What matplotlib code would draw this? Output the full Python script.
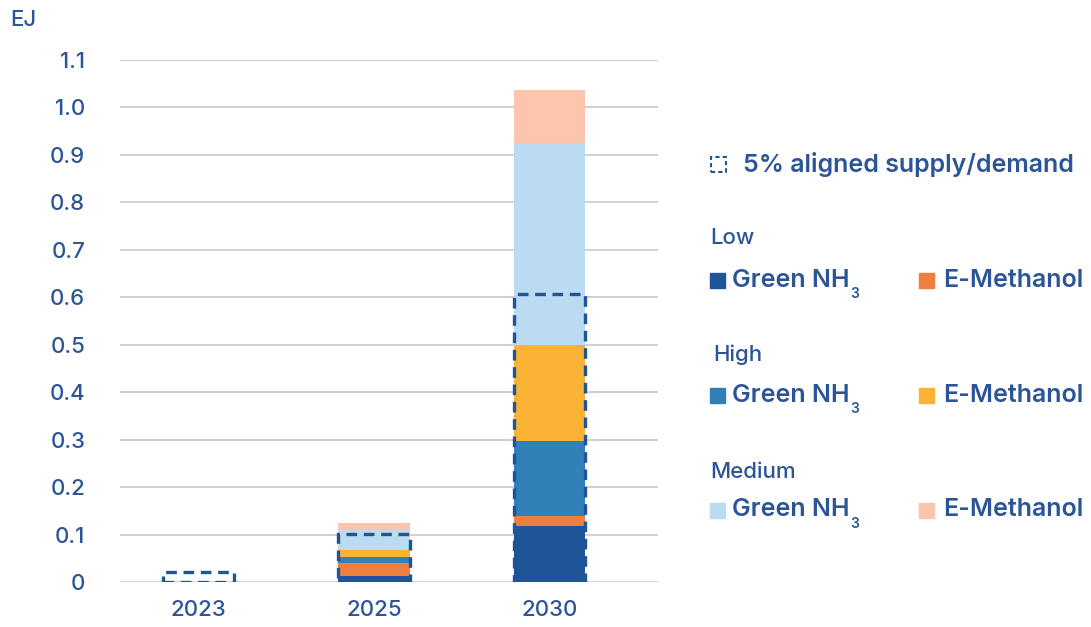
import matplotlib
matplotlib.use("Agg")
import matplotlib.pyplot as plt
from matplotlib.patches import Rectangle
import numpy as np

plt.rcParams['font.family'] = ['Inter', 'DejaVu Sans']

TEXT = "#2B5597"
GRID = "#C8C8C8"

years = ["2023", "2025", "2030"]
low_nh3 = [0.0, 0.013, 0.117]
low_meoh = [0.0, 0.026, 0.021]
high_nh3 = [0.0, 0.013, 0.160]
high_meoh = [0.0, 0.015, 0.202]
med_nh3 = [0.0, 0.043, 0.426]
med_meoh = [0.0, 0.015, 0.111]
aligned = [0.022, 0.101, 0.606]
yticks = [0, 0.1, 0.2, 0.3, 0.4, 0.5, 0.6, 0.7, 0.8, 0.9, 1.0, 1.1]
ytick_labels = ["0", "0.1", "0.2", "0.3", "0.4", "0.5", "0.6", "0.7", "0.8", "0.9", "1.0", "1.1"]

series = [
    (low_nh3, "#1F5497"),
    (low_meoh, "#F07E3C"),
    (high_nh3, "#3280B8"),
    (high_meoh, "#FBB335"),
    (med_nh3, "#BADBF2"),
    (med_meoh, "#FDC5AB"),
]

fig = plt.figure(figsize=(10.91, 6.27), dpi=100)
ax = fig.add_axes([0.110, 0.0718, 0.493, 0.8325])

x = np.arange(len(years))
width = 0.405
bottom = np.zeros(len(years))
for vals, col in series:
    ax.bar(x, vals, width, bottom=bottom, color=col, zorder=2)
    bottom += np.array(vals)

ax.bar(x, aligned, width, fill=False, edgecolor="#1F5497", linewidth=2.4,
       linestyle=(0, (3.2, 2.0)), zorder=3)

ax.set_xlim(-0.445, 2.615)
ax.set_ylim(0, 1.1)
ax.set_yticks(yticks)
ax.set_yticklabels(ytick_labels, fontweight="medium")
ax.set_xticks(x)
ax.set_xticklabels(years, fontweight="medium")
ax.grid(axis="y", color=GRID, linewidth=1.2, zorder=0)
ax.set_axisbelow(True)
for s in ax.spines.values():
    s.set_visible(False)
ax.tick_params(axis="both", length=0, labelsize=16, labelcolor=TEXT)
ax.tick_params(axis="y", pad=25)
ax.tick_params(axis="x", pad=13)

fig.text(10 / 1091, 1 - 20 / 627, "EJ", fontsize=16, fontweight="medium", color=TEXT,
         va="center", ha="left")

# legend, drawn by hand in figure pixels
W, H = 1091.0, 627.0


def fx(px):
    return px / W


def fy(py):
    return 1 - py / H


icon = Rectangle((fx(711), fy(172)), 15 / W, 15 / H, transform=fig.transFigure,
                 fill=False, edgecolor="#1F5497", linewidth=1.5,
                 linestyle=(0, (2, 1.5)))
fig.patches.append(icon)
fig.text(fx(743), fy(165), "5% aligned supply/demand", fontsize=18,
         fontweight="semibold", color=TEXT, va="center", ha="left")

groups = [
    ("Low", 238, 280.5, "#1F5497", "#F07E3C", 710),
    ("High", 355, 395, "#3280B8", "#FBB335", 713),
    ("Medium", 472, 510, "#BADBF2", "#FDC5AB", 710),
]
renderer = fig.canvas.get_renderer()
for name, gy, ry, c1, c2, gx in groups:
    fig.text(fx(gx), fy(gy), name, fontsize=16, fontweight="medium", color=TEXT,
             va="center", ha="left")
    fig.patches.append(Rectangle((fx(710), fy(ry + 7.5)), 15 / W, 15 / H,
                                 transform=fig.transFigure, color=c1))
    t = fig.text(fx(732), fy(ry), "Green NH", fontsize=18, fontweight="semibold",
                 color=TEXT, va="center", ha="left")
    bb = t.get_window_extent(renderer)
    fig.text(bb.x1 / W + 1 / W, fy(ry + 14), "3", fontsize=10, fontweight="semibold",
             color=TEXT, va="center", ha="left")
    fig.patches.append(Rectangle((fx(919), fy(ry + 7.5)), 15 / W, 15 / H,
                                 transform=fig.transFigure, color=c2))
    fig.text(fx(943), fy(ry), "E-Methanol", fontsize=18, fontweight="semibold",
             color=TEXT, va="center", ha="left")

fig.savefig("out.png", dpi=100)
